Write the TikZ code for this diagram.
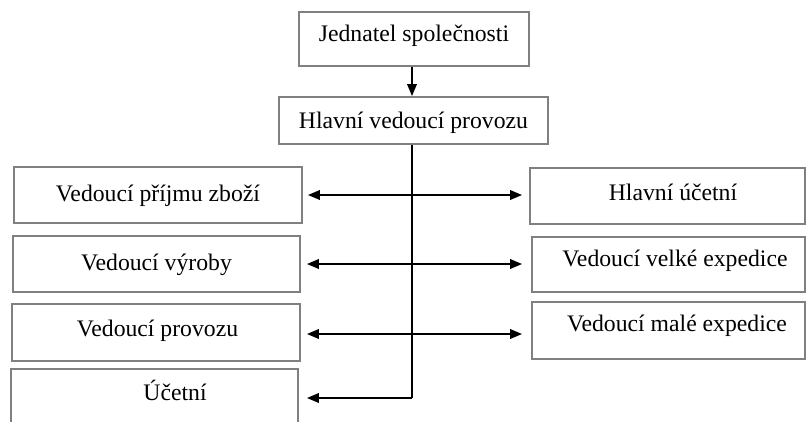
\documentclass[tikz,border=0pt]{standalone}
\usepackage{fontspec}
\setmainfont{Liberation Serif}
\usetikzlibrary{arrows.meta}
\definecolor{boxgray}{HTML}{808080}
\begin{document}
\begin{tikzpicture}[x=1pt,y=-1pt,
  box/.style={draw=boxgray, line width=1.8pt, fill=white, inner sep=2pt,
    font=\fontsize{23.7pt}{28pt}\selectfont, text height=17pt},
  conn/.style={line width=2pt, draw=black},
  tip/.style={-{Triangle[length=12pt,width=9.5pt]}},
  dtip/.style={{Triangle[length=12pt,width=9.5pt]}-{Triangle[length=12pt,width=9.5pt]}}]
\useasboundingbox (0,0) rectangle (806,421);
\clip (0,0) rectangle (806,421);
\node[box, minimum width=230pt, minimum height=54pt, text depth=12pt] (j) at (414,39) {Jednatel společnosti};
\node[box, minimum width=269pt, minimum height=47pt, text depth=1pt] (h) at (413.5,120.5) {Hlavní vedoucí provozu};
\node[box, minimum width=288pt, minimum height=56pt, text depth=4pt] (vpz) at (158,195) {Vedoucí příjmu zboží};
\node[box, minimum width=287pt, minimum height=56pt, text depth=5pt] (vv) at (156.5,264) {Vedoucí výroby};
\node[box, minimum width=288pt, minimum height=57pt, text depth=8.5pt] (vp) at (156,332.5) {\hspace*{3pt}Vedoucí provozu};
\node[box, minimum width=287pt, minimum height=56pt, text depth=9.5pt] (u) at (154.5,397) {\hspace*{41pt}Účetní};
\node[box, minimum width=275pt, minimum height=56pt, text depth=9pt] (hu) at (667.5,196) {\hspace*{11pt}Hlavní účetní};
\node[box, minimum width=273pt, minimum height=55pt, text depth=12.5pt] (vve) at (668.5,264.5) {\hspace*{13pt}Vedoucí velké expedice};
\node[box, minimum width=273pt, minimum height=57pt, text depth=14.5pt] (vme) at (668.5,330.5) {\hspace*{17pt}Vedoucí malé expedice};
\coordinate (c) at (412,398);
\draw[conn, tip] ([xshift=-2pt]j.south) -- ([xshift=-1.5pt]h.north);
\draw[conn, line width=1.6pt] ([xshift=-1.5pt]h.south) -- (c);
\draw[conn, tip, shorten >=8pt] (c) -- (c -| u.east);
\draw[conn, dtip, shorten <=5pt, shorten >=7pt] (vpz.east) -- (vpz.east -| hu.west);
\draw[conn, dtip, shorten <=6pt, shorten >=9pt] (vv.east) -- (vv.east -| vve.west);
\draw[conn, dtip, shorten <=6pt, shorten >=9pt] ([yshift=-1.5pt]vp.east) -- ([yshift=-1.5pt]vp.east -| vme.west);
\end{tikzpicture}
\end{document}
